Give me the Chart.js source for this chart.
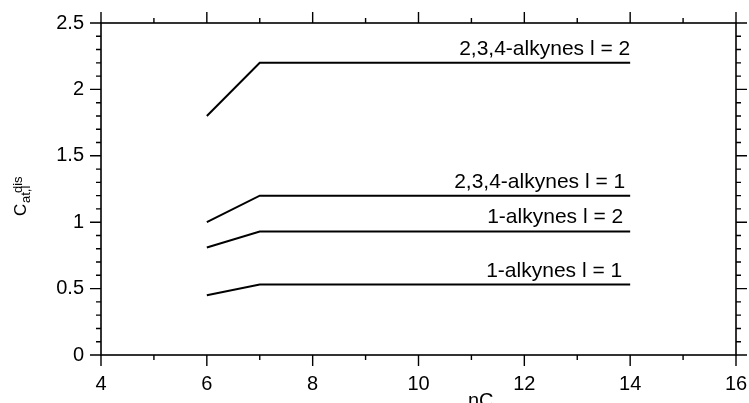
<!DOCTYPE html>
<html><head><meta charset="utf-8">
<script src="https://cdn.jsdelivr.net/npm/chart.js@4"></script>
<style>html,body{margin:0;padding:0;background:#fff}#wrap{width:749px;height:403px}</style>
</head><body><div id="wrap"><canvas id="c" width="749" height="403"></canvas></div>
<script>
// ---- data ----
const nC = [6, 7, 14];
const alk234_l2 = [1.80, 2.20, 2.20];
const alk234_l1 = [1.00, 1.20, 1.20];
const alk1_l2 = [0.81, 0.93, 0.93];
const alk1_l1 = [0.45, 0.53, 0.53];
const seriesNames = ['2,3,4-alkynes l = 2', '2,3,4-alkynes l = 1', '1-alkynes l = 2', '1-alkynes l = 1'];
const seriesValues = [alk234_l2, alk234_l1, alk1_l2, alk1_l1];
const xMin = 4, xMax = 16, xMajor = 2, xMinor = 1;
const yMin = 0, yMax = 2.5, yMajor = 0.5, yMinor = 0.1;

// ---- style ----
const FONT = '"Liberation Sans", Arial, sans-serif';
const labelDx = [0, -5, -7, -8];

function pts(vals){ return nC.map((x,i)=>({x:x, y:vals[i]})); }

const decor = {
  id:'decor',
  beforeDraw(chart){
    const ctx = chart.ctx;
    ctx.save(); ctx.fillStyle = '#fff'; ctx.fillRect(0,0,chart.width,chart.height); ctx.restore();
  },
  afterDraw(chart){
    const ctx = chart.ctx, a = chart.chartArea;
    const xs = chart.scales.x, ys = chart.scales.y;
    ctx.save();
    ctx.strokeStyle = '#000';
    ctx.lineWidth = 1.6;
    ctx.strokeRect(a.left, a.top, a.right - a.left, a.bottom - a.top);
    ctx.lineWidth = 1.4;
    ctx.beginPath();
    const nx = Math.round((xMax - xMin)/xMinor);
    for (let i=0;i<=nx;i++){
      const v = xMin + i*xMinor;
      const major = Math.abs(((v - xMin)/xMajor) - Math.round((v - xMin)/xMajor)) < 1e-6;
      const L = major ? 11 : 5;
      const px = xs.getPixelForValue(v);
      ctx.moveTo(px, a.bottom); ctx.lineTo(px, a.bottom + L);
      ctx.moveTo(px, a.top); ctx.lineTo(px, a.top - L);
    }
    const ny = Math.round((yMax - yMin)/yMinor);
    for (let i=0;i<=ny;i++){
      const v = yMin + i*yMinor;
      const major = i % Math.round(yMajor/yMinor) === 0;
      const L = major ? 11 : 5;
      const py = ys.getPixelForValue(v);
      ctx.moveTo(a.left, py); ctx.lineTo(a.left - L, py);
      ctx.moveTo(a.right, py); ctx.lineTo(a.right + L, py);
    }
    ctx.stroke();

    // series labels
    ctx.fillStyle = '#000';
    ctx.font = '21px ' + FONT;
    ctx.textAlign = 'right';
    ctx.textBaseline = 'alphabetic';
    seriesNames.forEach((name, i) => {
      const vals = seriesValues[i];
      const px = xs.getPixelForValue(nC[nC.length-1]) + labelDx[i];
      const py = ys.getPixelForValue(vals[vals.length-1]) - 8;
      ctx.fillText(name, px, py);
    });

    // x title
    ctx.textAlign = 'left';
    ctx.font = '20px ' + FONT;
    ctx.fillText('nC', 468, 407);

    // y title C^dis_{at,l}
    ctx.save();
    ctx.translate(25.5, 216);
    ctx.rotate(-Math.PI/2);
    ctx.textAlign = 'left';
    ctx.font = '17px ' + FONT;
    ctx.fillText('C', 0, 0);
    ctx.font = '13px ' + FONT;
    ctx.fillText('dis', 23, -3.5);
    ctx.fillText('at,l', 13, 4);
    ctx.restore();
    ctx.restore();
  }
};

new Chart(document.getElementById('c'), {
  type: 'scatter',
  data: {
    datasets: seriesValues.map((vals, i) => ({
      label: seriesNames[i],
      data: pts(vals),
      showLine: true,
      borderColor: '#000',
      backgroundColor: '#000',
      borderWidth: 2,
      pointRadius: 0,
      tension: 0
    }))
  },
  options: {
    responsive: false,
    devicePixelRatio: 1,
    animation: false,
    layout: { padding: { left: 0, top: 23, right: 13, bottom: 0 } },
    plugins: { legend: { display: false }, tooltip: { enabled: false } },
    scales: {
      x: {
        type: 'linear', min: xMin, max: xMax,
        grid: { display: false, drawTicks: false },
        border: { display: false },
        ticks: { stepSize: xMajor, color: '#000', font: { family: FONT, size: 20 }, padding: 17, maxRotation: 0,
                 callback: v => String(+Number(v).toFixed(3)) },
        afterFit(s){ s.height = 48; s.paddingLeft = 0; s.paddingRight = 0; }
      },
      y: {
        type: 'linear', min: yMin, max: yMax,
        grid: { display: false, drawTicks: false },
        border: { display: false },
        ticks: { stepSize: yMajor, color: '#000', font: { family: FONT, size: 20 }, padding: 17,
                 callback: v => String(+Number(v).toFixed(3)) },
        afterFit(s){ s.width = 101; s.paddingTop = 0; s.paddingBottom = 0; }
      }
    }
  },
  plugins: [decor]
});
</script>
</body></html>
